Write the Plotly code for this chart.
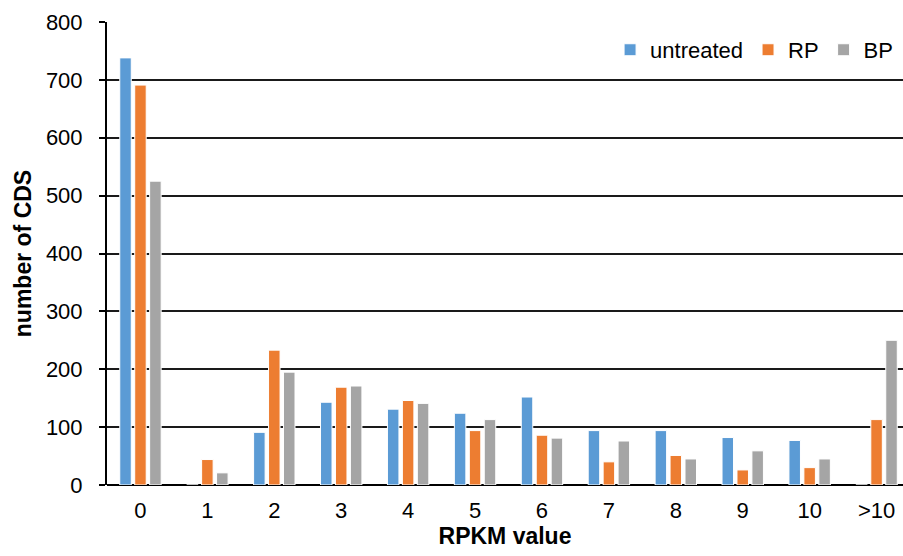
import plotly.graph_objects as go

categories = ["0", "1", "2", "3", "4", "5", "6", "7", "8", "9", "10", ">10"]
untreated = [738, 0, 91, 143, 131, 124, 152, 94, 94, 82, 77, 0]
rp = [691, 44, 233, 169, 146, 94, 86, 40, 51, 26, 30, 113]
bp = [525, 21, 195, 171, 141, 113, 81, 76, 45, 59, 45, 250]
y_ticks = [0, 100, 200, 300, 400, 500, 600, 700, 800]

series = [("untreated", untreated, "#5B9BD5"),
          ("RP", rp, "#ED7D31"),
          ("BP", bp, "#A5A5A5")]

fig = go.Figure()
for name, vals, col in series:
    fig.add_trace(go.Bar(x=categories, y=vals, name=name,
                         marker=dict(color=col, line=dict(color="white", width=1))))

font = "Liberation Sans, Arial, sans-serif"
fig.update_layout(
    width=903, height=556,
    margin=dict(l=107, r=0, t=22, b=71, autoexpand=False),
    paper_bgcolor="white", plot_bgcolor="white",
    barmode="group", bargap=0.33, bargroupgap=0.23,
    font=dict(family=font, size=22, color="black"),
    legend=dict(orientation="h", x=0.632, y=0.985, xanchor="left", yanchor="top",
                font=dict(size=22), itemwidth=30, bgcolor="rgba(0,0,0,0)"),
    xaxis=dict(range=[-0.5, 11.395], showline=False, ticks="", showgrid=False,
               automargin=False, ticklabelstandoff=10,
               title=dict(text="<b>RPKM value</b>", standoff=4, font=dict(size=23)),
               tickfont=dict(size=22)),
    yaxis=dict(range=[0, 800], tickvals=y_ticks, showgrid=True, gridcolor="#1a1a1a",
               gridwidth=1.5, showline=True, linecolor="black", linewidth=2,
               automargin=False, ticklabelstandoff=12,
               ticks="outside", ticklen=6, tickcolor="black", tickwidth=1.5,
               zeroline=True, zerolinecolor="black", zerolinewidth=2,
               title=dict(text="<b>number of CDS</b>", standoff=8, font=dict(size=23)),
               tickfont=dict(size=22)),
)
fig.write_html("out.html", config={"displayModeBar": False},
               post_script="document.body.style.margin='0';")
